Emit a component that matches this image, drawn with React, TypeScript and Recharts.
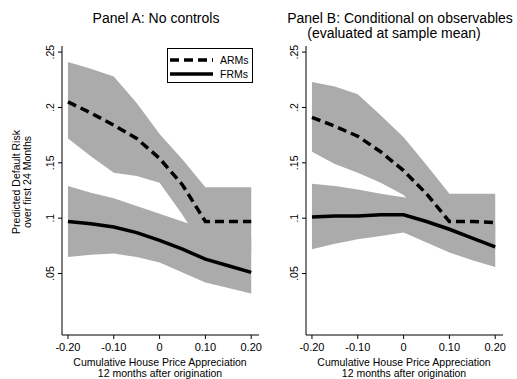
import React from "react";
import { ComposedChart, Area, Line, XAxis, YAxis } from "recharts";

// ---- data ----
const xValues = [-0.2, -0.15, -0.1, -0.05, 0, 0.05, 0.1, 0.15, 0.2];

// Panel A: No controls
const aArmMean = [0.205, 0.195, 0.184, 0.172, 0.154, 0.13, 0.097, 0.097, 0.097];
const aArmUpper = [0.241, 0.235, 0.228, 0.204, 0.176, 0.153, 0.128, 0.128, 0.128];
const aArmLower = [0.172, 0.156, 0.141, 0.138, 0.132, 0.103, 0.07, 0.069, 0.068];
const aFrmMean = [0.097, 0.095, 0.092, 0.087, 0.08, 0.072, 0.063, 0.057, 0.051];
const aFrmUpper = [0.129, 0.123, 0.118, 0.111, 0.104, 0.097, 0.09, 0.086, 0.082];
const aFrmLower = [0.065, 0.067, 0.068, 0.065, 0.06, 0.051, 0.042, 0.037, 0.032];

// Panel B: Conditional on observables
const bArmMean = [0.191, 0.183, 0.174, 0.16, 0.143, 0.122, 0.097, 0.097, 0.096];
const bArmUpper = [0.223, 0.219, 0.212, 0.193, 0.173, 0.148, 0.122, 0.122, 0.122];
const bArmLower = [0.16, 0.149, 0.141, 0.132, 0.121, 0.098, 0.075, 0.073, 0.072];
const bFrmMean = [0.101, 0.102, 0.102, 0.103, 0.103, 0.097, 0.09, 0.082, 0.074];
const bFrmUpper = [0.131, 0.129, 0.126, 0.122, 0.119, 0.114, 0.11, 0.102, 0.095];
const bFrmLower = [0.072, 0.077, 0.081, 0.084, 0.087, 0.078, 0.069, 0.062, 0.056];

const xTicks = [-0.2, -0.1, 0, 0.1, 0.2];
const xTickLabels = ["-0.20", "-0.10", "0", "0.10", "0.20"];
const yTicks = [0.05, 0.1, 0.15, 0.2, 0.25];
const yTickLabels = [".05", ".1", ".15", ".2", ".25"];

const seriesNames = ["ARMs", "FRMs"];
const panelATitle = "Panel A: No controls";
const panelBTitle = ["Panel B: Conditional on observables", "(evaluated at sample mean)"];
const xAxisTitle = ["Cumulative House Price Appreciation", "12 months after origination"];
const yAxisTitle = ["Predicted Default Risk", "over first 24 Months"];

const build = (
  armMean: number[], armUp: number[], armLo: number[],
  frmMean: number[], frmUp: number[], frmLo: number[]
) =>
  xValues.map((x, i) => ({
    x,
    arm: armMean[i],
    frm: frmMean[i],
    armBand: [armLo[i], armUp[i]],
    frmBand: [frmLo[i], frmUp[i]],
  }));

const dataA = build(aArmMean, aArmUpper, aArmLower, aFrmMean, aFrmUpper, aFrmLower);
const dataB = build(bArmMean, bArmUpper, bArmLower, bFrmMean, bFrmUpper, bFrmLower);

const FONT = "'Liberation Sans', Arial, Helvetica, sans-serif";
const BAND = "#ababab";

const XTick = (props: any) => {
  const { x, y, payload } = props;
  const idx = xTicks.indexOf(payload.value);
  return (
    <text x={x} y={y} dy="0.71em" textAnchor="middle" fontSize={11} fontFamily={FONT} fill="#000">
      {idx >= 0 ? xTickLabels[idx] : payload.value}
    </text>
  );
};

const YTick = (props: any) => {
  const { x, y, payload } = props;
  const idx = yTicks.indexOf(payload.value);
  const cx = x - 6;
  return (
    <text
      x={cx}
      y={y}
      transform={`rotate(-90 ${cx} ${y})`}
      textAnchor="middle"
      dominantBaseline="central"
      fontSize={10.5}
      fontFamily={FONT}
      fill="#000"
    >
      {idx >= 0 ? yTickLabels[idx] : payload.value}
    </text>
  );
};

const Panel = ({ data }: { data: any[] }) => (
  <ComposedChart
    width={265}
    height={379}
    data={data}
    margin={{ top: 46, right: 6, bottom: 0, left: 0 }}
  >
    <XAxis
      dataKey="x"
      type="number"
      domain={[-0.213, 0.217]}
      ticks={xTicks}
      tick={<XTick />}
      tickSize={4}
      tickMargin={4}
      height={44}
      allowDataOverflow
      interval={0}
      stroke="#000"
      tickLine={{ stroke: "#000" }}
    />
    <YAxis
      type="number"
      domain={[-0.0055, 0.2555]}
      ticks={yTicks}
      tick={<YTick />}
      tickSize={4}
      tickMargin={2}
      width={62}
      allowDataOverflow
      interval={0}
      stroke="#000"
      tickLine={{ stroke: "#000" }}
    />
    <Area type="linear" dataKey="frmBand" fill={BAND} fillOpacity={1} stroke="none" isAnimationActive={false} />
    <Area type="linear" dataKey="armBand" fill={BAND} fillOpacity={1} stroke="none" isAnimationActive={false} />
    <Line type="linear" dataKey="frm" stroke="#000" strokeWidth={3.5} dot={false} isAnimationActive={false} />
    <Line
      type="linear"
      dataKey="arm"
      stroke="#000"
      strokeWidth={3.5}
      strokeDasharray="9 5"
      dot={false}
      isAnimationActive={false}
    />
  </ComposedChart>
);

export default function App() {
  return (
    <div style={{ position: "absolute", left: 0, top: 0, width: 517, height: 379, background: "#fff", overflow: "hidden" }}>
      <div style={{ position: "absolute", left: 0, top: 0 }}>
        <Panel data={dataA} />
      </div>
      <div style={{ position: "absolute", left: 244, top: 0 }}>
        <Panel data={dataB} />
      </div>
      <svg
        width={517}
        height={379}
        style={{ position: "absolute", left: 0, top: 0, pointerEvents: "none" }}
        fontFamily={FONT}
      >
        <text x={156} y={23} textAnchor="middle" fontSize={14}>{panelATitle}</text>
        <text x={400} y={23} textAnchor="middle" fontSize={14}>{panelBTitle[0]}</text>
        <text x={394} y={38} textAnchor="middle" fontSize={14}>{panelBTitle[1]}</text>

        <text x={160} y={366} textAnchor="middle" fontSize={10.5}>{xAxisTitle[0]}</text>
        <text x={160} y={377} textAnchor="middle" fontSize={10.5}>{xAxisTitle[1]}</text>
        <text x={404} y={366} textAnchor="middle" fontSize={10.5}>{xAxisTitle[0]}</text>
        <text x={404} y={377} textAnchor="middle" fontSize={10.5}>{xAxisTitle[1]}</text>

        <text x={20} y={182} transform="rotate(-90 20 182)" textAnchor="middle" fontSize={10.5}>{yAxisTitle[0]}</text>
        <text x={31} y={182} transform="rotate(-90 31 182)" textAnchor="middle" fontSize={10.5}>{yAxisTitle[1]}</text>

        <rect x={167.5} y={48.5} width={85} height={34} fill="#fff" stroke="#000" strokeWidth={1} />
        <line x1={170} y1={60} x2={213} y2={60} stroke="#000" strokeWidth={3.5} strokeDasharray="9 5" />
        <text x={220} y={64} fontSize={10.5}>{seriesNames[0]}</text>
        <line x1={170} y1={74} x2={213} y2={74} stroke="#000" strokeWidth={3.5} />
        <text x={220} y={78} fontSize={10.5}>{seriesNames[1]}</text>
      </svg>
    </div>
  );
}
